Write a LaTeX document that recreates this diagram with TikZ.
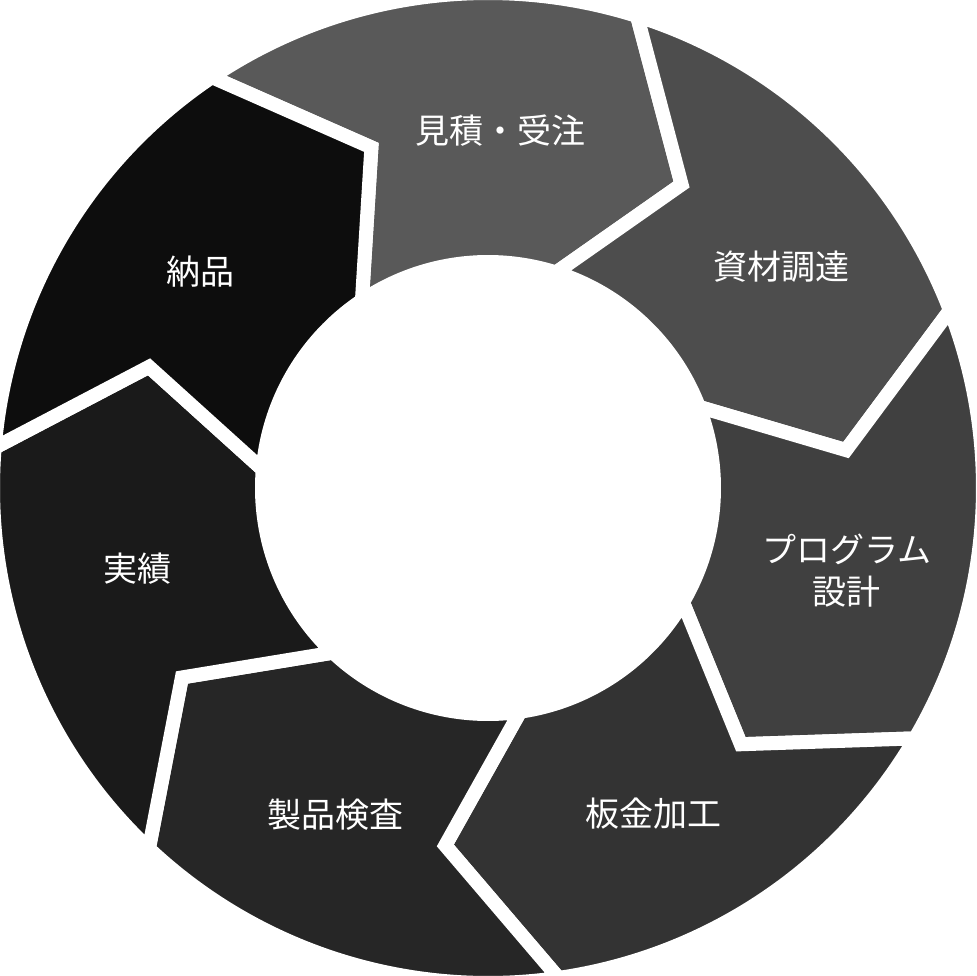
\documentclass[tikz,border=0pt]{standalone}
\usepackage{fontspec}
\newfontfamily\cjk{Noto Sans CJK JP}[BoldFont={Noto Sans CJK JP Medium}]
\definecolor{c0}{HTML}{595959}
\definecolor{c1}{HTML}{4D4D4D}
\definecolor{c2}{HTML}{404040}
\definecolor{c3}{HTML}{333333}
\definecolor{c4}{HTML}{262626}
\definecolor{c5}{HTML}{1A1A1A}
\definecolor{c6}{HTML}{0D0D0D}
\begin{document}
\begin{tikzpicture}[x=1pt,y=1pt,
  seg/.style={draw=white,line width=14pt,line join=miter},
  lbl/.style={text=white,font=\cjk\fontsize{34}{42}\selectfont,align=center}]
\useasboundingbox (-488,-488) rectangle (488,488);
\fill[white] (-488,-488) rectangle (488,488);
\pgfmathsetmacro{\st}{360/7}
\foreach \k in {0,...,6}{
  \pgfmathsetmacro{\s}{-33.9+\k*\st}
  \pgfmathsetmacro{\e}{\s+\st}
  \pgfmathsetmacro{\as}{90-\s}
  \pgfmathsetmacro{\ae}{90-\e}
  \pgfmathsetmacro{\ase}{90-\s-15}
  \pgfmathsetmacro{\aee}{90-\e-15}
  \path[seg,fill=c\k] (\as:495) arc[start angle=\as,end angle=\ae,radius=495]
    -- (\aee:360) -- (\ae:226) arc[start angle=\ae,end angle=\as,radius=226]
    -- (\ase:360) -- cycle;
}
\node[lbl] (n0) at (88:358) {見積・受注};
\node[lbl] (n1) at (37:367) {資材調達};
\node[lbl] (n2) at (-13:368) {プログラム\\設計};
\node[lbl] (n3) at (-63:365) {板金加工};
\node[lbl] (n4) at (-115:360) {製品検査};
\node[lbl] (n5) at (-167:360) {実績};
\node[lbl] (n6) at (143:360) {納品};
\end{tikzpicture}
\end{document}
